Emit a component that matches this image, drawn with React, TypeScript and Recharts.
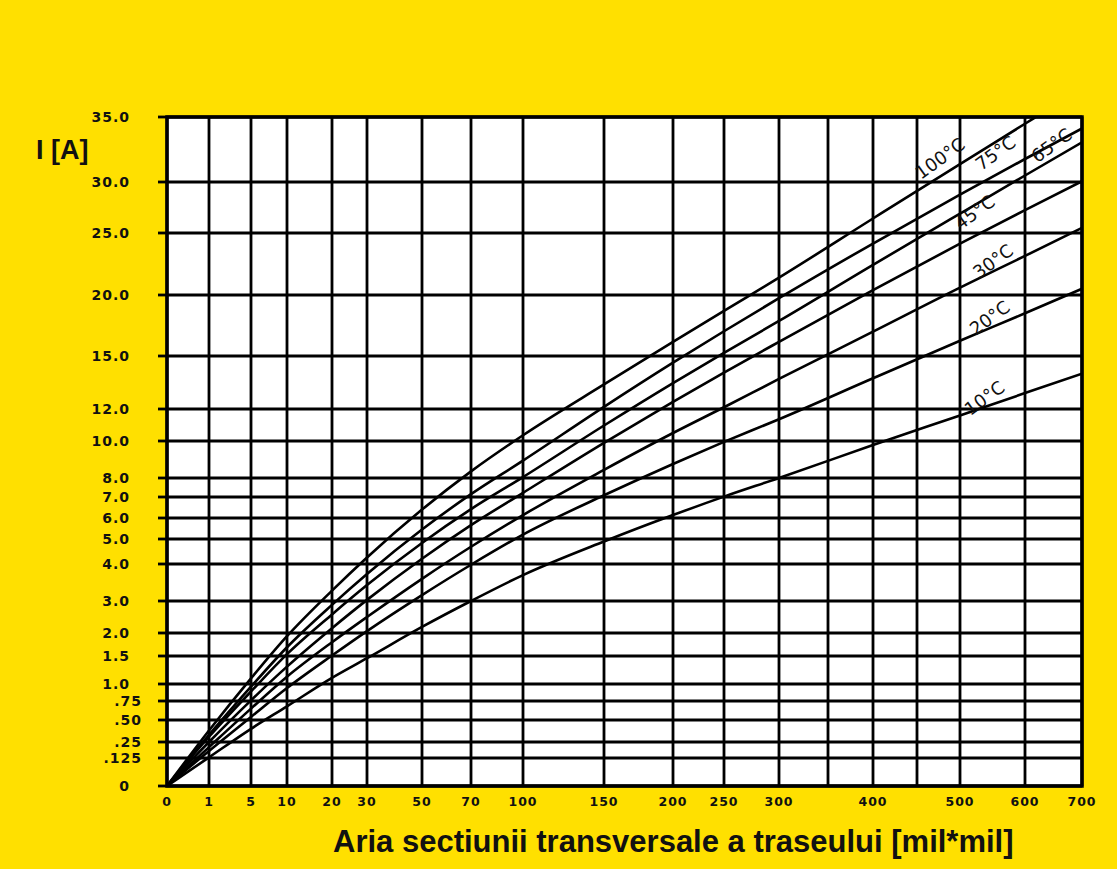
import React from "react";
import { CartesianGrid, Line, LineChart, ReferenceArea, ReferenceDot, XAxis, YAxis } from "recharts";

// the grid of this nomogram is not linear: each grid value has its own place along the axis
const xGrid = [0, 1, 5, 10, 20, 30, 50, 70, 100, 150, 200, 250, 300, 350, 400, 450, 500, 600, 700];
const xGridSpacing = [0, 42, 84, 120, 165, 200, 255, 304, 356, 437, 506, 557, 612, 661, 706, 750, 793, 858, 915];
const xLabels = ["0", "1", "5", "10", "20", "30", "50", "70", "100", "150", "200", "250", "300", "", "400", "", "500", "600", "700"];

const yGrid = [0, 0.125, 0.25, 0.5, 0.75, 1, 1.5, 2, 3, 4, 5, 6, 7, 8, 10, 12, 15, 20, 25, 30, 35];
const yGridSpacing = [0, 28, 44, 66, 85, 102, 130, 153, 185, 222, 247, 268, 289, 308, 345, 377, 430, 491, 553, 604, 669];
const yLabels = ["0", ".125", ".25", ".50", ".75", "1.0", "1.5", "2.0", "3.0", "4.0", "5.0", "6.0", "7.0", "8.0", "10.0", "12.0", "15.0", "20.0", "25.0", "30.0", "35.0"];

// cross-section area [mil*mil] and current [A] per temperature rise
const area = [0, 1, 5, 10, 20, 30, 50, 70, 100, 150, 200, 250, 300, 400, 500, 600, 700];
const i10 = [0, 0.13, 0.4, 0.68, 1.11, 1.46, 2.19, 3.0, 3.7, 4.9, 6.14, 7.02, 8.0, 9.78, 11.6, 12.9, 14.0];
const i20 = [0, 0.18, 0.54, 0.94, 1.51, 2.06, 3.16, 3.98, 5.21, 7.09, 8.76, 9.95, 11.36, 13.74, 16.25, 18.5, 20.5];
const i30 = [0, 0.21, 0.65, 1.13, 1.8, 2.5, 3.6, 4.69, 6.14, 8.44, 10.5, 12.1, 13.7, 17.0, 20.6, 23.15, 25.5];
const i45 = [0, 0.25, 0.76, 1.31, 2.15, 3.03, 4.21, 5.66, 7.22, 9.9, 12.4, 14.06, 16.16, 20.4, 24.14, 27.25, 30.06];
const i65 = [0, 0.31, 0.89, 1.54, 2.58, 3.43, 4.84, 6.42, 8.05, 10.97, 13.47, 15.26, 17.87, 22.43, 26.9, 30.5, 33.05];
const i75 = [0, 0.33, 0.96, 1.69, 2.88, 3.73, 5.45, 7.15, 8.94, 12.12, 14.62, 17.03, 19.74, 24.15, 28.76, 31.77, 34.12];
const area100 = [0, 1, 5, 10, 20, 30, 50, 70, 100, 150, 200, 250, 300, 400, 500, 600, 619];
const i100 = [0, 0.38, 1.1, 1.93, 3.28, 4.26, 6.4, 8.36, 10.36, 13.39, 16.15, 18.7, 21.4, 26.42, 31.38, 34.48, 35.0];

// where each curve is labelled: [area, current]
const curveLabels = [
  { text: "100°C", at: [477, 31.8] },
  { text: "75°C", at: [555, 32.2] },
  { text: "65°C", at: [647, 32.8] },
  { text: "45°C", at: [523, 27.0] },
  { text: "30°C", at: [551, 22.7] },
  { text: "20°C", at: [546, 18.1] },
  { text: "10°C", at: [538, 12.6] },
];

function warp(v: number, grid: number[], spacing: number[]) {
  for (let k = 1; k < grid.length; k++) {
    if (v <= grid[k]) {
      const t = (v - grid[k - 1]) / (grid[k] - grid[k - 1]);
      return spacing[k - 1] + t * (spacing[k] - spacing[k - 1]);
    }
  }
  return spacing[spacing.length - 1];
}

const toX = (a: number) => warp(a, xGrid, xGridSpacing);
const toY = (i: number) => warp(i, yGrid, yGridSpacing);

function series(xs: number[], ys: number[]) {
  return xs.map((a, k) => ({ x: toX(a), y: toY(ys[k]) }));
}

const curves = [
  { name: "10", data: series(area, i10) },
  { name: "20", data: series(area, i20) },
  { name: "30", data: series(area, i30) },
  { name: "45", data: series(area, i45) },
  { name: "65", data: series(area, i65) },
  { name: "75", data: series(area, i75) },
  { name: "100", data: series(area100, i100) },
];

const tickFont = { fontFamily: "'DejaVu Sans', sans-serif", fontWeight: 700, fill: "#111" };

function YTick({ x, y, payload }: any) {
  const label = yLabels[yGridSpacing.indexOf(payload.value)] ?? "";
  const shift = label.startsWith(".") ? 12 : 0;
  return (
    <text x={x + shift} y={y} dy={5} textAnchor="end" fontSize={14} letterSpacing={1} {...tickFont}>
      {label}
    </text>
  );
}

function XTick({ x, y, payload }: any) {
  const label = xLabels[xGridSpacing.indexOf(payload.value)] ?? "";
  return (
    <text x={x} y={y} dy={12} textAnchor="middle" fontSize={12.5} letterSpacing={1} {...tickFont}>
      {label}
    </text>
  );
}

export default function App() {
  return (
    <div style={{ position: "absolute", left: 0, top: 0, width: 1117, height: 869, background: "#FFE000" }}>
      <LineChart width={1117} height={869} margin={{ top: 117, right: 35, bottom: 53, left: 7 }}>
        <CartesianGrid stroke="#000" strokeWidth={2.8} fill="#fff" fillOpacity={1} />
        <XAxis
          type="number"
          dataKey="x"
          domain={[0, 915]}
          ticks={xGridSpacing}
          interval={0}
          height={30}
          tickLine={false}
          axisLine={false}
          tickSize={4}
          tickMargin={4}
          tick={<XTick />}
          allowDataOverflow
        />
        <YAxis
          type="number"
          dataKey="y"
          domain={[0, 669]}
          ticks={yGridSpacing}
          interval={0}
          width={160}
          axisLine={false}
          tickLine={{ stroke: "#000", strokeWidth: 2.8 }}
          tickSize={9}
          tickMargin={28}
          tick={<YTick />}
          allowDataOverflow
        />
        <ReferenceArea
          x1={0}
          x2={915}
          y1={0}
          y2={669}
          fill="none"
          stroke="#000"
          strokeWidth={3.5}
          ifOverflow="visible"
        />
        {curves.map((c) => (
          <Line
            key={c.name}
            data={c.data}
            dataKey="y"
            type="monotone"
            stroke="#000"
            strokeWidth={2.6}
            dot={false}
            activeDot={false}
            isAnimationActive={false}
          />
        ))}
        {curveLabels.map((l) => (
          <ReferenceDot
            key={l.text}
            x={toX(l.at[0])}
            y={toY(l.at[1])}
            r={1}
            ifOverflow="visible"
            shape={(p: any) => (
              <text
                x={p.cx}
                y={p.cy}
                dy={6}
                textAnchor="middle"
                transform={`rotate(-36 ${p.cx} ${p.cy})`}
                fontFamily="'DejaVu Sans', sans-serif"
                fontSize={18}
                fill="#111"
              >
                {l.text}
              </text>
            )}
          />
        ))}
      </LineChart>
      <div
        style={{
          position: "absolute",
          left: 36,
          top: 135,
          fontFamily: "'Liberation Sans', Arial, sans-serif",
          fontWeight: 700,
          fontSize: 27,
          color: "#111",
        }}
      >
        I [A]
      </div>
      <div
        style={{
          position: "absolute",
          left: 333,
          top: 824,
          fontFamily: "'Liberation Sans', Arial, sans-serif",
          fontWeight: 700,
          fontSize: 31,
          color: "#111",
          whiteSpace: "nowrap",
        }}
      >
        Aria sectiunii transversale a traseului [mil*mil]
      </div>
    </div>
  );
}
